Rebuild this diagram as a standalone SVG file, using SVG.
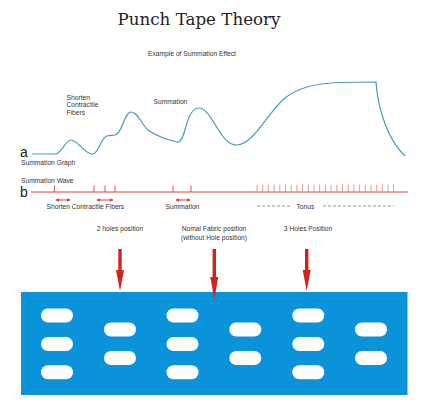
<svg xmlns="http://www.w3.org/2000/svg" width="430" height="416" viewBox="0 0 430 416">
<style>
.t{font-family:"Liberation Sans",Arial,sans-serif;font-size:6.7px;fill:#333}
.lbl{font-family:"Liberation Sans",Arial,sans-serif;font-size:14px;fill:#222}
.title{font-family:"DejaVu Serif","Liberation Serif",serif;font-size:17px;fill:#222}
.curve{fill:none;stroke:#4b9ab8;stroke-width:1.2}
.red{stroke:#d2453f;stroke-width:1;fill:none}
.tick{stroke:#c9443e;stroke-width:0.9}
.tt{stroke:#d99592;stroke-width:0.9}
.dash{stroke:#777;stroke-width:0.8;stroke-dasharray:3 2}
.big{fill:#d0231c}
.hole{fill:#fff}
</style>
<defs>
<marker id="ah" viewBox="0 0 6 6" refX="5" refY="3" markerWidth="4" markerHeight="4" orient="auto-start-reverse">
<path d="M0,0 L6,3 L0,6 z" fill="#d2453f"/>
</marker>
</defs>
<rect width="430" height="416" fill="#fff"/>
<text class="title" x="199" y="25" text-anchor="middle" textLength="163" lengthAdjust="spacingAndGlyphs">Punch Tape Theory</text>
<text class="t" x="192" y="56" text-anchor="middle">Example of Summation Effect</text>
<g id="graph">
<text class="t" x="66.5" y="99.5">Shorten</text>
<text class="t" x="66.5" y="107.3">Contractile</text>
<text class="t" x="66.5" y="115">Fibers</text>
<text class="t" x="153.5" y="104">Summation</text>
<text class="lbl" x="20" y="156.5">a</text>
<text class="t" x="21" y="164.7">Summation Graph</text>
<path class="curve" d="M32,154 L55,154 C62,154 65,140 71,140 C78,140 85,155 93,154 C99,153 101,137 107,136 C112,135 114,136 117,134 C122,131 125,112 131,112 C138,112 141,124 148,130 C158,137 168,140 177,142 C186,144 185,108 199,108 C212,108 220,146 237,145 C254,144 268,112 285,98 C300,86 320,83 340,82.5 L376,82 C378,110 388,140 405,156"/>
</g>
<g id="wave">
<text class="t" x="21" y="183.3">Summation Wave</text>
<text class="lbl" x="20" y="196.5">b</text>
<line class="red" x1="31" y1="192" x2="408" y2="192"/>
<g class="tick">
<line x1="54.5" y1="185.5" x2="54.5" y2="192"/>
<line x1="94" y1="185.5" x2="94" y2="192"/>
<line x1="105" y1="185.5" x2="105" y2="192"/>
<line x1="115" y1="185.5" x2="115" y2="192"/>
<line x1="173" y1="185.5" x2="173" y2="192"/>
<line x1="191" y1="185.5" x2="191" y2="192"/>
</g>
<g class="tt">
<line x1="257" y1="184.5" x2="257" y2="192"/><line x1="262.7" y1="184.5" x2="262.7" y2="192"/><line x1="268.4" y1="184.5" x2="268.4" y2="192"/><line x1="274.1" y1="184.5" x2="274.1" y2="192"/><line x1="279.8" y1="184.5" x2="279.8" y2="192"/><line x1="285.5" y1="184.5" x2="285.5" y2="192"/><line x1="291.2" y1="184.5" x2="291.2" y2="192"/><line x1="296.9" y1="184.5" x2="296.9" y2="192"/><line x1="302.6" y1="184.5" x2="302.6" y2="192"/><line x1="308.3" y1="184.5" x2="308.3" y2="192"/><line x1="314" y1="184.5" x2="314" y2="192"/><line x1="319.7" y1="184.5" x2="319.7" y2="192"/><line x1="325.4" y1="184.5" x2="325.4" y2="192"/><line x1="331.1" y1="184.5" x2="331.1" y2="192"/><line x1="336.8" y1="184.5" x2="336.8" y2="192"/><line x1="342.5" y1="184.5" x2="342.5" y2="192"/><line x1="348.2" y1="184.5" x2="348.2" y2="192"/><line x1="353.9" y1="184.5" x2="353.9" y2="192"/><line x1="359.6" y1="184.5" x2="359.6" y2="192"/><line x1="365.3" y1="184.5" x2="365.3" y2="192"/><line x1="371" y1="184.5" x2="371" y2="192"/><line x1="376.7" y1="184.5" x2="376.7" y2="192"/><line x1="382.4" y1="184.5" x2="382.4" y2="192"/><line x1="388.1" y1="184.5" x2="388.1" y2="192"/><line x1="393.5" y1="184.5" x2="393.5" y2="192"/>
</g>
<line class="red" x1="56" y1="200" x2="70" y2="200" stroke-width="0.8" marker-start="url(#ah)" marker-end="url(#ah)"/>
<line class="red" x1="97" y1="200" x2="113" y2="200" stroke-width="0.8" marker-start="url(#ah)" marker-end="url(#ah)"/>
<line class="red" x1="176" y1="200" x2="190" y2="200" stroke-width="0.8" marker-start="url(#ah)" marker-end="url(#ah)"/>
<text class="t" x="46.5" y="209">Shorten Contractile  Fibers</text>
<text class="t" x="165.5" y="209">Summation</text>
<line class="dash" x1="257" y1="206" x2="292" y2="206"/>
<text class="t" x="296.5" y="209">Tonus</text>
<line class="dash" x1="323" y1="206" x2="394" y2="206"/>
</g>
<g id="labels">
<text class="t" x="120" y="231" text-anchor="middle">2 holes position</text>
<text class="t" x="214" y="231" text-anchor="middle">Nomal Fabric position</text>
<text class="t" x="214" y="239.5" text-anchor="middle">(without Hole position)</text>
<text class="t" x="308" y="231" text-anchor="middle">3 Holes Position</text>
</g>
<g id="tape">
<rect x="21" y="292" width="386.5" height="103" fill="#0b93d9"/>
<g class="hole">
<rect x="41" y="308.5" width="32" height="14" rx="7"/><rect x="41" y="337" width="32" height="14" rx="7"/><rect x="41" y="365.3" width="32" height="14" rx="7"/>
<rect x="104" y="322.5" width="32" height="14" rx="7"/><rect x="104" y="351" width="32" height="14" rx="7"/>
<rect x="166.5" y="308.5" width="32" height="14" rx="7"/><rect x="166.5" y="337" width="32" height="14" rx="7"/><rect x="166.5" y="365.3" width="32" height="14" rx="7"/>
<rect x="229.3" y="322.5" width="32" height="14" rx="7"/><rect x="229.3" y="351" width="32" height="14" rx="7"/>
<rect x="292.3" y="308.5" width="32" height="14" rx="7"/><rect x="292.3" y="337" width="32" height="14" rx="7"/><rect x="292.3" y="365.3" width="32" height="14" rx="7"/>
<rect x="355" y="322.5" width="32" height="14" rx="7"/><rect x="355" y="351" width="32" height="14" rx="7"/>
</g>
</g>
<g id="arrows">
<polygon class="big" points="118.3,249 121.7,249 121.7,270 124,270 120,291 116,270 118.3,270"/>
<polygon class="big" points="212.6,249 216,249 216,277 218.3,277 214.3,299 210.3,277 212.6,277"/>
<polygon class="big" points="305,249 308.4,249 308.4,270 310.7,270 306.7,291 302.7,270 305,270"/>
</g>
</svg>
